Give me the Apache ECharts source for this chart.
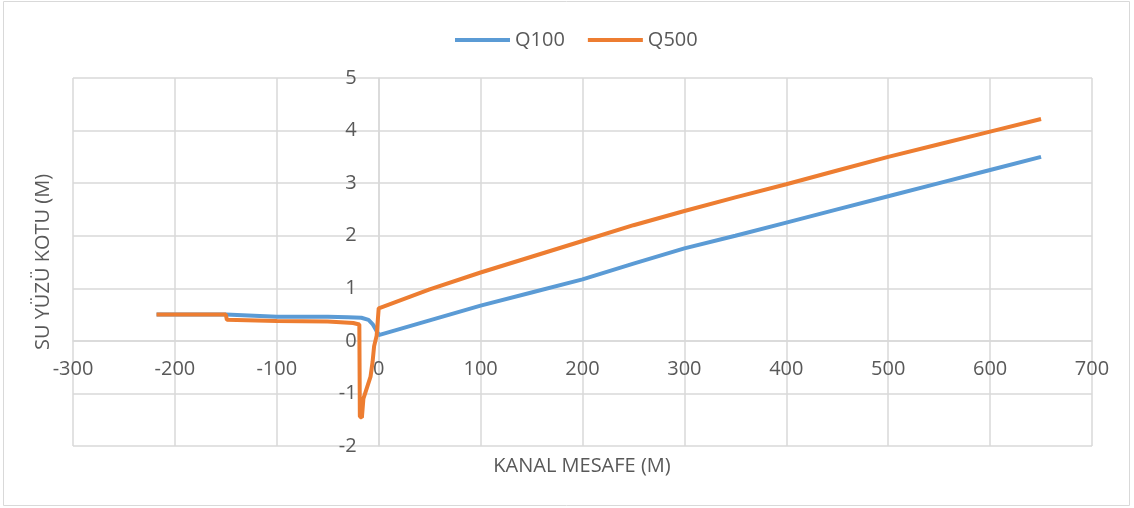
<!DOCTYPE html>
<html>
<head>
<meta charset="utf-8">
<script src="https://cdn.jsdelivr.net/npm/echarts@6/dist/echarts.min.js"></script>
<style>
  html, body { margin: 0; padding: 0; background: #fff; }
  #chart { width: 1134px; height: 508px; }
</style>
</head>
<body>
<div id="chart"></div>
<script>
// kanal mesafesi (m) ve su yüzü kotu (m)
const q100X = [-218, -150, -149, -100, -50, -30, -17, -10, -6, -3, -1, 0, 50, 100, 150, 200, 250, 300, 350, 400, 450, 500, 550, 600, 650];
const q100Y = [0.50, 0.50, 0.47, 0.46, 0.46, 0.45, 0.44, 0.40, 0.32, 0.22, 0.15, 0.11, 0.39, 0.67, 0.92, 1.17, 1.47, 1.76, 2.0, 2.25, 2.5, 2.75, 3.0, 3.25, 3.5];

const q500X = [-218, -150, -149, -100, -50, -25, -19, -18.5, -16.5, -15, -8, -6, -4.5, -2, 0, 25, 50, 100, 150, 200, 250, 300, 350, 400, 450, 500, 550, 600, 650];
const q500Y = [0.50, 0.50, 0.40, 0.38, 0.37, 0.34, 0.31, -1.44, -1.46, -1.1, -0.68, -0.4, -0.1, 0.1, 0.62, 0.8, 0.98, 1.3, 1.6, 1.9, 2.2, 2.47, 2.73, 2.98, 3.24, 3.5, 3.74, 3.98, 4.22];

const xTicks = { min: -300, max: 700, step: 100 };
const yTicks = { min: -2, max: 5, step: 1 };

const pairs = (xs, ys) => xs.map((x, i) => [x, ys[i]]);

const chart = echarts.init(document.getElementById('chart'));
const labelColor = '#595959';
const gridColor = '#d9d9d9';
const font = 'Open Sans, sans-serif';

// plot area (px)
const gLeft = 73, gRight = 42, gTop = 78, gBottom = 62;
const plotW = 1134 - gLeft - gRight;
const plotH = 508 - gTop - gBottom;
// axes cross at 0 -> shift them inward (onZero did not take effect)
const xAxisShift = -plotH * (0 - yTicks.min) / (yTicks.max - yTicks.min);
const yAxisShift = -plotW * (0 - xTicks.min) / (xTicks.max - xTicks.min);

chart.setOption({
  animation: false,
  textStyle: { fontFamily: font },
  legend: {
    top: 25,
    left: 450,
    icon: 'rect',
    itemWidth: 55,
    itemHeight: 4,
    itemGap: 23,
    textStyle: { color: labelColor, fontSize: 20, fontFamily: font },
    data: ['Q100', 'Q500'],
  },
  grid: {
    left: gLeft,
    right: gRight,
    top: gTop,
    bottom: gBottom,
    containLabel: false,
  },
  xAxis: {
    type: 'value',
    min: xTicks.min,
    max: xTicks.max,
    interval: xTicks.step,
    offset: xAxisShift,
    axisLine: { show: true, onZero: false, lineStyle: { color: gridColor, width: 1.5 } },
    axisTick: { show: false },
    axisLabel: { color: labelColor, fontSize: 20, margin: 18, fontFamily: font },
    splitLine: { show: true, lineStyle: { color: gridColor, width: 1.5 } },
  },
  yAxis: {
    type: 'value',
    min: yTicks.min,
    max: yTicks.max,
    interval: yTicks.step,
    offset: yAxisShift,
    axisLine: { show: true, onZero: false, lineStyle: { color: gridColor, width: 1.5 } },
    axisTick: { show: false },
    axisLabel: { color: labelColor, fontSize: 20, margin: 22, fontFamily: font },
    splitLine: { show: true, lineStyle: { color: gridColor, width: 1.5 } },
  },
  graphic: [
    {
      type: 'rect',
      shape: { x: 3.5, y: 1.5, width: 1126, height: 504 },
      style: { fill: 'none', stroke: '#d9d9d9', lineWidth: 1 },
      silent: true,
    },
    {
      type: 'text',
      x: 582,
      y: 466,
      style: {
        text: 'KANAL MESAFE (M)',
        fill: labelColor,
        fontSize: 20,
        fontFamily: font,
        align: 'center',
        verticalAlign: 'middle',
      },
    },
    {
      type: 'text',
      x: 43,
      y: 262,
      rotation: Math.PI / 2,
      style: {
        text: 'SU YÜZÜ KOTU (M)',
        fill: labelColor,
        fontSize: 20,
        fontFamily: font,
        align: 'center',
        verticalAlign: 'middle',
      },
    },
  ],
  series: [
    {
      name: 'Q100',
      type: 'line',
      showSymbol: false,
      lineStyle: { color: '#5B9BD5', width: 4 },
      itemStyle: { color: '#5B9BD5' },
      data: pairs(q100X, q100Y),
    },
    {
      name: 'Q500',
      type: 'line',
      showSymbol: false,
      lineStyle: { color: '#ED7D31', width: 4 },
      itemStyle: { color: '#ED7D31' },
      data: pairs(q500X, q500Y),
    },
  ],
});
</script>
</body>
</html>
